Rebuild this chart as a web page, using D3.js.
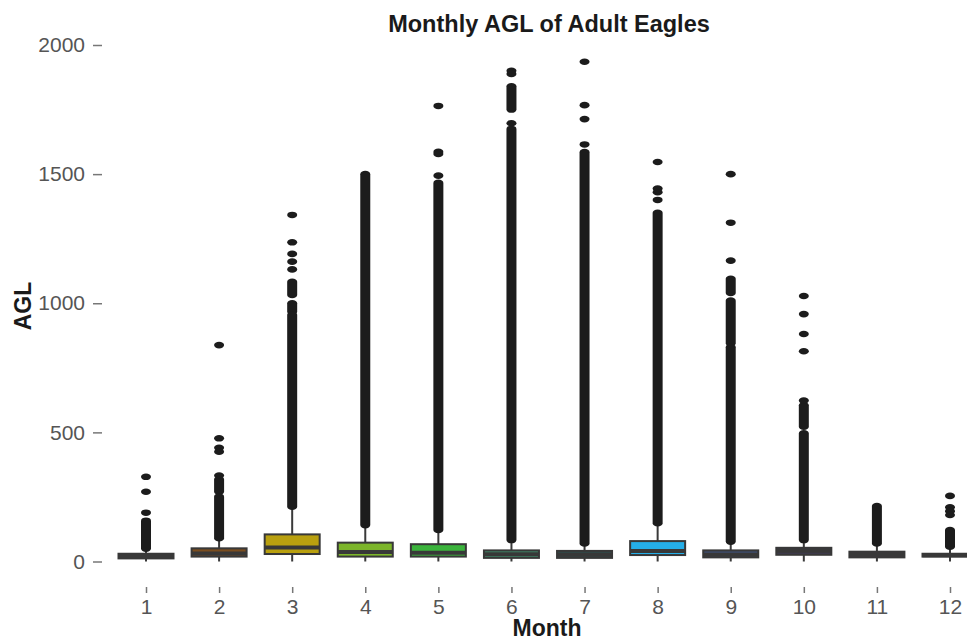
<!DOCTYPE html>
<html>
<head>
<meta charset="utf-8">
<script src="https://cdn.jsdelivr.net/npm/d3@7"></script>
<style>
  body { margin: 0; background: #fff; }
  svg { display: block; font-family: "Liberation Sans", Arial, sans-serif; }
</style>
</head>
<body>
<svg width="967" height="641"></svg>
<script>
"use strict";

// months on the x axis
const months = [1, 2, 3, 4, 5, 6, 7, 8, 9, 10, 11, 12];

// box statistics (AGL)
const q1 =          [12, 19, 29, 19, 19, 14, 14, 25, 16, 26, 16, 19];
const median =      [21, 31, 54, 37, 34, 28, 26, 41, 26, 42, 27, 24];
const q3 =          [30, 51, 105, 73, 67, 43, 41, 79, 43, 53, 38, 30];
const whiskerLow =  [0, 0, 0, 0, 0, 0, 0, 0, 0, 0, 0, 0];
const whiskerHigh = [50, 90, 212, 141, 122, 83, 70, 148, 77, 83, 70, 57];

// isolated outliers per month
const outlierPoints = [
    [328, 270, 189],
    [838, 477, 440, 425, 333],
    [1342, 1236, 1191, 1161, 1131],
    [],
    [1764, 1586, 1578, 1494],
    [1900, 1888, 1697],
    [1935, 1767, 1713, 1615],
    [1547, 1444, 1430, 1400],
    [1500, 1312, 1165],
    [1028, 958, 881, 814, 623],
    [],
    [254, 210, 195, 180]
];

// stretches where outliers are so dense they merge into a column [low, high]
const outlierRuns = [
    [[50, 158]],
    [[270, 318], [90, 251]],
    [[1032, 1083], [967, 1000], [212, 955]],
    [[141, 1500]],
    [[122, 1466]],
    [[1750, 1840], [83, 1675]],
    [[70, 1585]],
    [[148, 1350]],
    [[1040, 1095], [845, 1010], [77, 830]],
    [[522, 605], [83, 496]],
    [[70, 215]],
    [[57, 122]]
];

const yTicks = [0, 500, 1000, 1500, 2000];

const palette = ["#5a2a2a", "#7a4d1f", "#b9a00f", "#7cb52a", "#3bb43c", "#3f8a6a",
                 "#2f4a4a", "#25aee8", "#3e4d6e", "#3e3a4e", "#403540", "#453038"];

let svg = d3.select("svg");

let x = d3.scalePoint().domain(months).range([146, 950]);
let y = d3.scaleLinear().domain([0, 2000]).range([561.5, 45]);
let color = d3.scaleOrdinal().domain(months).range(palette);

let boxW = 55,
    dotRx = 5,
    dotRy = 3.3;

let data = months.map((m, i) => ({
    month: m,
    q1: q1[i], median: median[i], q3: q3[i],
    lo: whiskerLow[i], hi: whiskerHigh[i],
    points: outlierPoints[i],
    runs: outlierRuns[i]
}));

// axes
let yAxis = svg.append("g")
    .attr("transform", "translate(102,0)")
    .call(d3.axisLeft(y).tickValues(yTicks).tickFormat(d3.format("d")).tickSize(9).tickPadding(8));
yAxis.select(".domain").remove();
yAxis.selectAll("line").attr("stroke", "#777").attr("stroke-width", 1.5);
yAxis.selectAll("text")
    .attr("fill", "#555")
    .style("font-size", "21px")
    .style("font-family", "'Liberation Sans', Arial, sans-serif");

let xAxis = svg.append("g")
    .attr("transform", "translate(0,587)")
    .call(d3.axisBottom(x).tickSize(6).tickPadding(6));
xAxis.select(".domain").remove();
xAxis.selectAll("line").attr("stroke", "#777").attr("stroke-width", 1.5);
xAxis.selectAll("text")
    .attr("fill", "#555")
    .style("font-size", "21px")
    .style("font-family", "'Liberation Sans', Arial, sans-serif");

let g = svg.append("g");

let box = g.selectAll("g.box")
    .data(data)
    .enter().append("g")
    .attr("class", "box");

// whiskers
box.append("line")
    .attr("x1", d => x(d.month))
    .attr("x2", d => x(d.month))
    .attr("y1", d => y(d.lo))
    .attr("y2", d => y(d.hi))
    .attr("stroke", "#3a3a3a")
    .attr("stroke-width", 2);

// dense outlier columns
box.selectAll("rect.run")
    .data(d => d.runs.map(r => ({ month: d.month, lo: r[0], hi: r[1] })))
    .enter().append("rect")
    .attr("class", "run")
    .attr("x", d => x(d.month) - dotRx)
    .attr("width", dotRx * 2)
    .attr("y", d => y(d.hi) - dotRy)
    .attr("height", d => y(d.lo) - y(d.hi) + dotRy * 2)
    .attr("rx", dotRx)
    .attr("ry", dotRy)
    .attr("fill", "#1c1c1c");

// single outliers
box.selectAll("ellipse")
    .data(d => d.points.map(v => ({ month: d.month, v: v })))
    .enter().append("ellipse")
    .attr("cx", d => x(d.month))
    .attr("cy", d => y(d.v))
    .attr("rx", dotRx)
    .attr("ry", dotRy)
    .attr("fill", "#1c1c1c");

// boxes
box.append("rect")
    .attr("x", d => x(d.month) - boxW / 2)
    .attr("width", boxW)
    .attr("y", d => y(d.q3))
    .attr("height", d => y(d.q1) - y(d.q3))
    .attr("fill", d => color(d.month))
    .attr("stroke", "#383838")
    .attr("stroke-width", 2);

// medians
box.append("line")
    .attr("x1", d => x(d.month) - boxW / 2)
    .attr("x2", d => x(d.month) + boxW / 2)
    .attr("y1", d => y(d.median))
    .attr("y2", d => y(d.median))
    .attr("stroke", "#383838")
    .attr("stroke-width", 4);

// titles
svg.append("text")
    .attr("x", 549)
    .attr("y", 32)
    .attr("text-anchor", "middle")
    .style("font-size", "23.5px")
    .style("font-weight", "bold")
    .attr("fill", "#1a1a1a")
    .text("Monthly AGL of Adult Eagles");

svg.append("text")
    .attr("transform", "translate(31,306) rotate(-90)")
    .attr("text-anchor", "middle")
    .style("font-size", "23px")
    .style("font-weight", "bold")
    .attr("fill", "#1a1a1a")
    .text("AGL");

svg.append("text")
    .attr("x", 547)
    .attr("y", 636)
    .attr("text-anchor", "middle")
    .style("font-size", "23px")
    .style("font-weight", "bold")
    .attr("fill", "#1a1a1a")
    .text("Month");
</script>
</body>
</html>
